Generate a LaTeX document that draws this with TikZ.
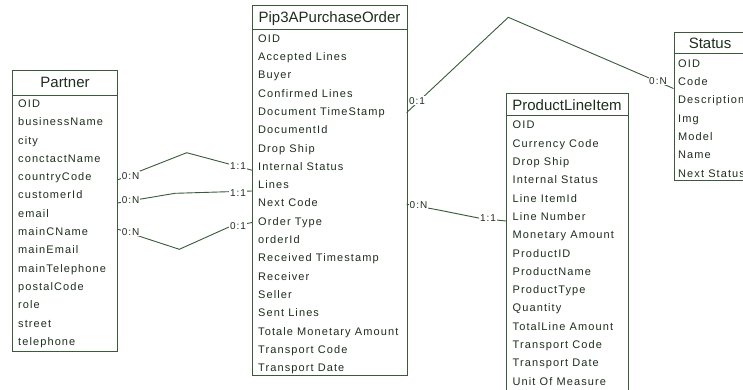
\documentclass[tikz,border=0pt]{standalone}
\usepackage{fontspec}
\setmainfont{Liberation Sans}
\newfontfamily\attrfont[LetterSpace=10]{Liberation Sans}
\newfontfamily\headfont{Liberation Sans}
\definecolor{erline}{HTML}{3A5A3A}
\definecolor{ertext}{HTML}{1E2E1E}
\begin{document}
\begin{tikzpicture}[x=1pt,y=-1pt,
  ebox/.style={draw=erline, line width=0.9pt, inner sep=0pt, anchor=north west},
  hline/.style={draw=erline, line width=0.9pt},
  conn/.style={draw=erline, line width=0.9pt},
  title/.style={font=\headfont\fontsize{15}{17}\selectfont, text=ertext, inner sep=0pt, text height=10.7pt, text depth=0pt},
  attr/.style={font=\attrfont\fontsize{11}{13}\selectfont, text=ertext, inner sep=0pt, text height=7.9pt, text depth=0pt, anchor=west},
  card/.style={font=\attrfont\fontsize{10}{12}\selectfont, text=ertext, fill=white, inner sep=0.6pt, text height=7.2pt, text depth=0pt}]
\useasboundingbox (0,0) rectangle (743,389);
\clip (0,0) rectangle (743,389);
\fill[white] (0,0) rectangle (743,389);

% ---------- entity boxes ----------
\node[ebox, minimum width=105pt, minimum height=281pt] (partner) at (12.3,70) {};
\draw[hline] (12.3,95) -- (117.3,95);
\node[title] (partnerT) at (65,82.5) {Partner};
\foreach \t [count=\i from 0] in {OID, businessName, city, conctactName, countryCode, customerId, email, mainCName, mainEmail, mainTelephone, postalCode, role, street, telephone}
  { \node[attr] (pa\i) at (18,{103.5+18.3*\i}) {\t}; }

\node[ebox, minimum width=154.7pt, minimum height=370pt] (po) at (252,5) {};
\draw[hline] (252,29.3) -- (406.7,29.3);
\node[title] (poT) at (329.5,17.5) {Pip3APurchaseOrder};
\foreach \t [count=\i from 0] in {OID, Accepted Lines, Buyer, Confirmed Lines, Document TimeStamp, DocumentId, Drop Ship, Internal Status, Lines, Next Code, Order Type, orderId, Received Timestamp, Receiver, Seller, Sent Lines, Totale Monetary Amount, Transport Code, Transport Date}
  { \node[attr] (po\i) at (258,{38.3+18.3*\i}) {\t}; }

\node[ebox, minimum width=122pt, minimum height=310pt] (pli) at (506,93) {};
\draw[hline] (506,115) -- (628,115);
\node[title] (pliT) at (567,105.5) {ProductLineItem};
\foreach \t [count=\i from 0] in {OID, Currency Code, Drop Ship, Internal Status, Line ItemId, Line Number, Monetary Amount, ProductID, ProductName, ProductType, Quantity, TotalLine Amount, Transport Code, Transport Date, Unit Of Measure}
  { \node[attr] (pl\i) at (512.5,{125+18.3*\i}) {\t}; }

\node[ebox, minimum width=73.5pt, minimum height=148pt] (st) at (673.5,32) {};
\draw[hline] (673.5,53.3) -- (747,53.3);
\node[title] (stT) at (710,43.3) {Status};
\foreach \t [count=\i from 0] in {OID, Code, Description, Img, Model, Name, Next Status}
  { \node[attr] (st\i) at (678,{63.3+18.3*\i}) {\t}; }

% ---------- connector end points and bends ----------
\coordinate (c1s) at (117.3,180);
\coordinate (c1m) at (186.7,152.7);
\coordinate (c1e) at (252,170.2);
\coordinate (c2s) at (117.3,203);
\coordinate (c2m) at (175,193.3);
\coordinate (c2n) at (228.3,191.7);
\coordinate (c2e) at (252,191);
\coordinate (c3s) at (117.3,229);
\coordinate (c3m) at (179.3,249.3);
\coordinate (c3n) at (228.3,227.3);
\coordinate (c3e) at (252,222.5);
\coordinate (c4s) at (406.7,112.5);
\coordinate (c4m) at (508.3,17.3);
\coordinate (c4e) at (673.5,88.5);
\coordinate (c5s) at (406.7,204.3);
\coordinate (c5m) at (436,209.5);
\coordinate (c5n) at (480,218.3);
\coordinate (c5e) at (506,221);

\draw[conn] (c1s) -- (c1m) -- (c1e);
\draw[conn] (c2s) -- (c2m) -- (c2n) -- (c2e);
\draw[conn] (c3s) -- (c3m) -- (c3n) -- (c3e);
\draw[conn] (c4s) -- (c4m) -- (c4e);
\draw[conn] (c5s) -- (c5m) -- (c5n) -- (c5e);

% ---------- cardinalities ----------
\node[card] (k1a) at (130.6,175.5) {0:N};
\node[card] (k1b) at (238,165.5) {1:1};
\node[card] (k2a) at (130.6,200.3) {0:N};
\node[card] (k2b) at (238,192.5) {1:1};
\node[card] (k3a) at (130.6,232) {0:N};
\node[card] (k3b) at (238,225.5) {0:1};
\node[card] (k4a) at (417,100.5) {0:1};
\node[card] (k4b) at (658,80.5) {0:N};
\node[card] (k5a) at (418.5,205) {0:N};
\node[card] (k5b) at (488,217.5) {1:1};
\end{tikzpicture}
\end{document}
